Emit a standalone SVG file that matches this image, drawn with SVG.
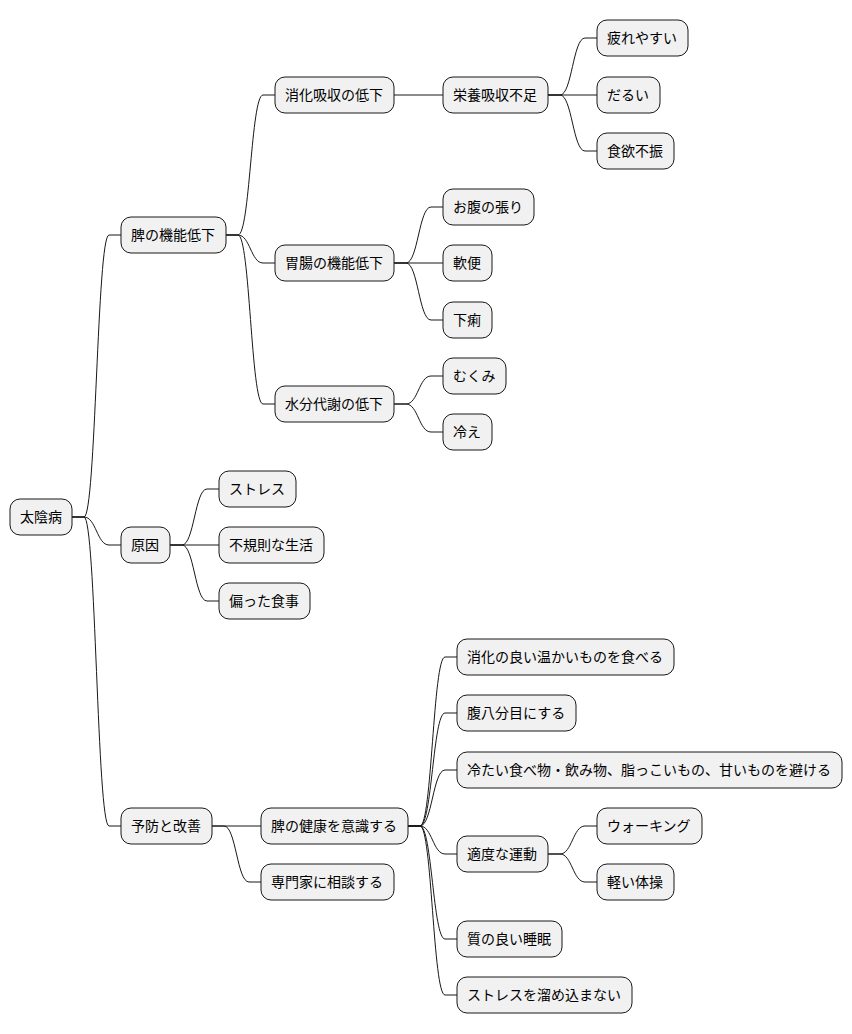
<svg xmlns="http://www.w3.org/2000/svg" width="852" height="1034" viewBox="0 0 852 1034">
<style>
rect{fill:#f1f1f1;stroke:#181818;stroke-width:1}
text{font-family:"Liberation Sans","Noto Sans CJK JP",sans-serif;font-size:14px;fill:#000}
#edges path{fill:none;stroke:#181818;stroke-width:1}
</style>
<rect width="852" height="1034" style="fill:#fff;stroke:none"/>
<g id="edges">
<path d="M72 517 h12 C96 517 97 235 109 235 H121"/>
<path d="M72 517 h12 C96 517 97 545 109 545 H121"/>
<path d="M72 517 h12 C96 517 97 826 109 826 H121"/>
<path d="M226 235 h12 C250 235 251 95 263 95 H275"/>
<path d="M226 235 h12 C250 235 251 263 263 263 H275"/>
<path d="M226 235 h12 C250 235 251 404 263 404 H275"/>
<path d="M394 95 H443"/>
<path d="M548 95 h12 C572 95 573 38 585 38 H597"/>
<path d="M548 95 H597"/>
<path d="M548 95 h12 C572 95 573 151 585 151 H597"/>
<path d="M394 263 h12 C418 263 419 207 431 207 H443"/>
<path d="M394 263 H443"/>
<path d="M394 263 h12 C418 263 419 320 431 320 H443"/>
<path d="M394 404 h12 C418 404 419 376 431 376 H443"/>
<path d="M394 404 h12 C418 404 419 432 431 432 H443"/>
<path d="M170 545 h12 C194 545 195 489 207 489 H219"/>
<path d="M170 545 H219"/>
<path d="M170 545 h12 C194 545 195 601 207 601 H219"/>
<path d="M212 826 H261"/>
<path d="M212 826 h12 C236 826 237 882 249 882 H261"/>
<path d="M408 826 h12 C432 826 433 657 445 657 H457"/>
<path d="M408 826 h12 C432 826 433 713 445 713 H457"/>
<path d="M408 826 h12 C432 826 433 770 445 770 H457"/>
<path d="M408 826 h12 C432 826 433 854 445 854 H457"/>
<path d="M408 826 h12 C432 826 433 939 445 939 H457"/>
<path d="M408 826 h12 C432 826 433 995 445 995 H457"/>
<path d="M548 854 h12 C572 854 573 826 585 826 H597"/>
<path d="M548 854 h12 C572 854 573 882 585 882 H597"/>
</g>
<g id="n0"><rect x="10" y="499" width="62" height="36" rx="10"/><text x="20" y="522">太陰病</text></g>
<g id="n1"><rect x="121" y="217" width="105" height="36" rx="10"/><text x="131" y="240">脾の機能低下</text></g>
<g id="n2"><rect x="275" y="77" width="119" height="36" rx="10"/><text x="285" y="100">消化吸収の低下</text></g>
<g id="n3"><rect x="443" y="77" width="105" height="36" rx="10"/><text x="453" y="100">栄養吸収不足</text></g>
<g id="n4"><rect x="597" y="20" width="91" height="36" rx="10"/><text x="607" y="43">疲れやすい</text></g>
<g id="n5"><rect x="597" y="77" width="63" height="36" rx="10"/><text x="607" y="100">だるい</text></g>
<g id="n6"><rect x="597" y="133" width="77" height="36" rx="10"/><text x="607" y="156">食欲不振</text></g>
<g id="n7"><rect x="275" y="245" width="119" height="36" rx="10"/><text x="285" y="268">胃腸の機能低下</text></g>
<g id="n8"><rect x="443" y="189" width="91" height="36" rx="10"/><text x="453" y="212">お腹の張り</text></g>
<g id="n9"><rect x="443" y="245" width="49" height="36" rx="10"/><text x="453" y="268">軟便</text></g>
<g id="n10"><rect x="443" y="302" width="49" height="36" rx="10"/><text x="453" y="325">下痢</text></g>
<g id="n11"><rect x="275" y="386" width="119" height="36" rx="10"/><text x="285" y="409">水分代謝の低下</text></g>
<g id="n12"><rect x="443" y="358" width="63" height="36" rx="10"/><text x="453" y="381">むくみ</text></g>
<g id="n13"><rect x="443" y="414" width="49" height="36" rx="10"/><text x="453" y="437">冷え</text></g>
<g id="n14"><rect x="121" y="527" width="49" height="36" rx="10"/><text x="131" y="550">原因</text></g>
<g id="n15"><rect x="219" y="471" width="77" height="36" rx="10"/><text x="229" y="494">ストレス</text></g>
<g id="n16"><rect x="219" y="527" width="105" height="36" rx="10"/><text x="229" y="550">不規則な生活</text></g>
<g id="n17"><rect x="219" y="583" width="91" height="36" rx="10"/><text x="229" y="606">偏った食事</text></g>
<g id="n18"><rect x="121" y="808" width="91" height="36" rx="10"/><text x="131" y="831">予防と改善</text></g>
<g id="n19"><rect x="261" y="808" width="147" height="36" rx="10"/><text x="271" y="831">脾の健康を意識する</text></g>
<g id="n20"><rect x="457" y="639" width="217" height="36" rx="10"/><text x="467" y="662">消化の良い温かいものを食べる</text></g>
<g id="n21"><rect x="457" y="695" width="119" height="36" rx="10"/><text x="467" y="718">腹八分目にする</text></g>
<g id="n22"><rect x="457" y="752" width="385" height="36" rx="10"/><text x="467" y="775">冷たい食べ物・飲み物、脂っこいもの、甘いものを避ける</text></g>
<g id="n23"><rect x="457" y="836" width="91" height="36" rx="10"/><text x="467" y="859">適度な運動</text></g>
<g id="n24"><rect x="597" y="808" width="105" height="36" rx="10"/><text x="607" y="831">ウォーキング</text></g>
<g id="n25"><rect x="597" y="864" width="77" height="36" rx="10"/><text x="607" y="887">軽い体操</text></g>
<g id="n26"><rect x="457" y="921" width="105" height="36" rx="10"/><text x="467" y="944">質の良い睡眠</text></g>
<g id="n27"><rect x="457" y="977" width="175" height="36" rx="10"/><text x="467" y="1000">ストレスを溜め込まない</text></g>
<g id="n28"><rect x="261" y="864" width="133" height="36" rx="10"/><text x="271" y="887">専門家に相談する</text></g>
</svg>
